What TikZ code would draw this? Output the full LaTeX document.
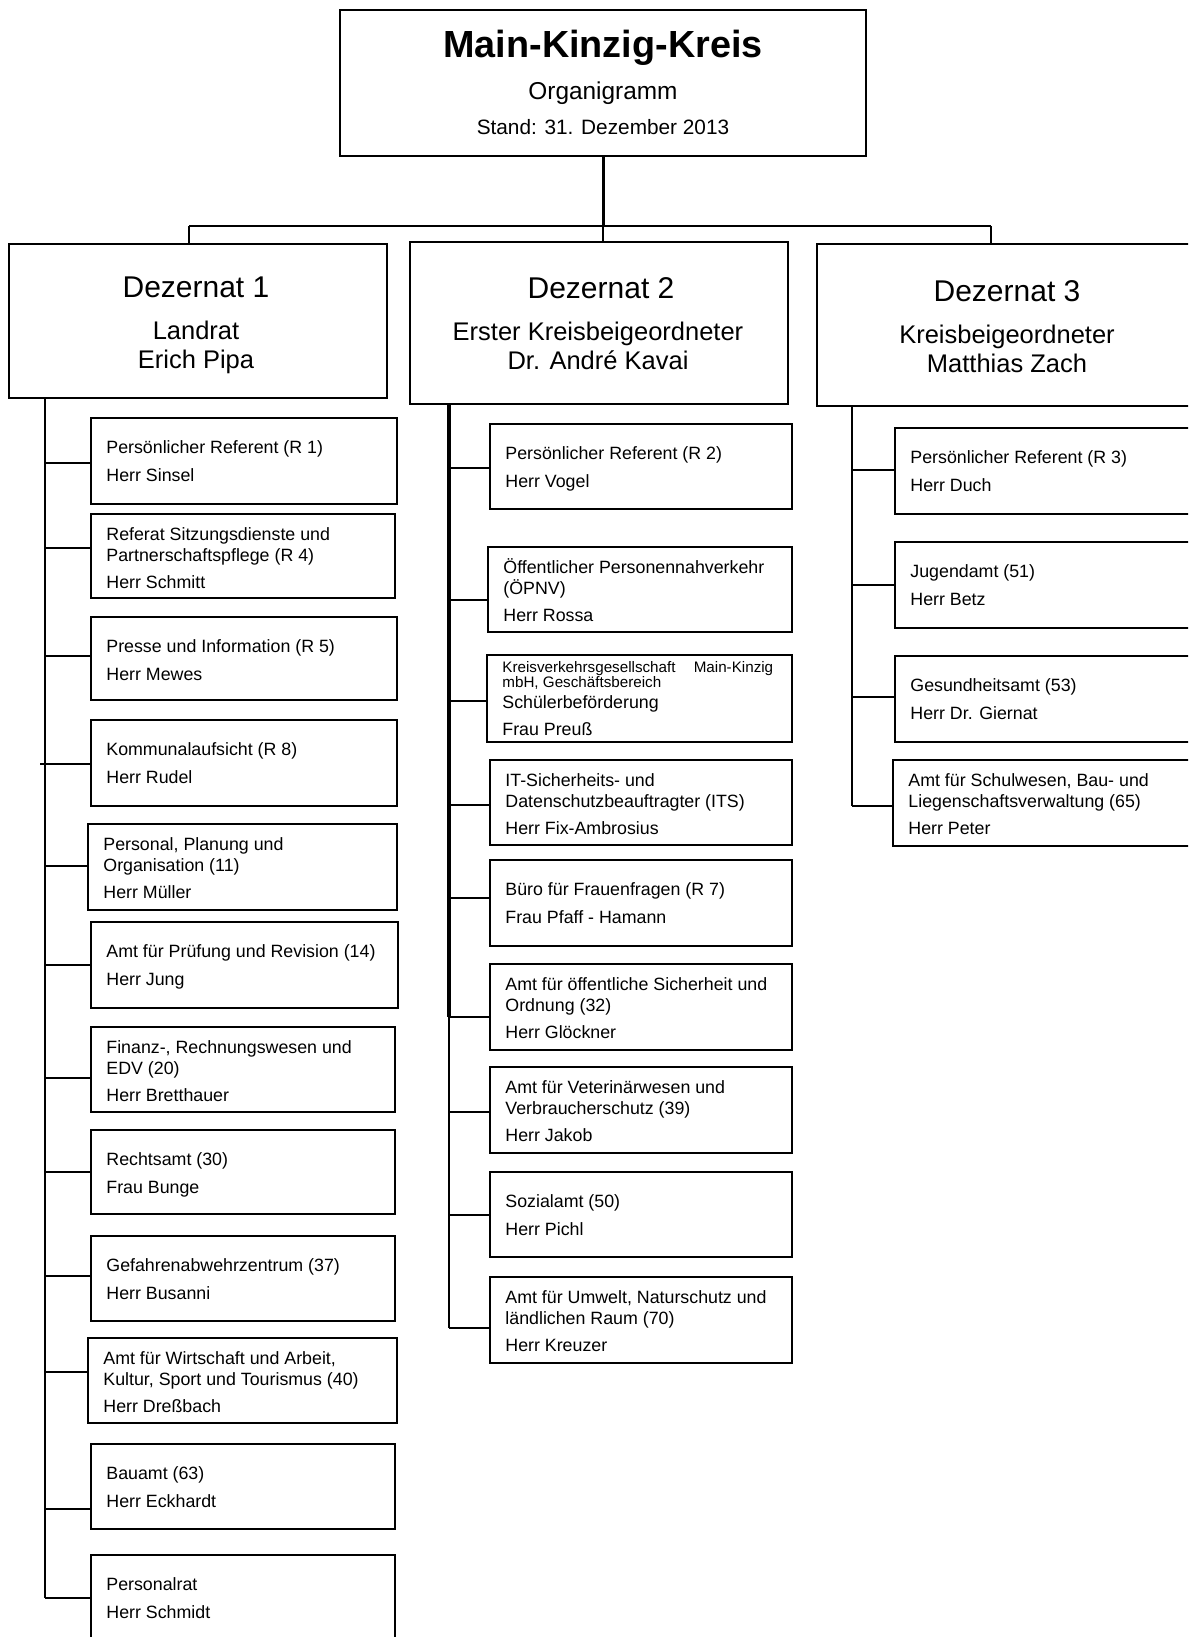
\documentclass[tikz,border=0pt]{standalone}
\usepackage{fontspec}
\setmainfont{Liberation Sans}
\tikzset{
  ln/.style={line width=1pt},
  ubox/.style={draw, line width=1pt, anchor=north west, inner sep=0pt, outer sep=0pt},
  ut/.style={anchor=base west, inner sep=0pt, font=\fontsize{8.9}{10}\selectfont},
  us/.style={anchor=base west, inner sep=0pt, font=\fontsize{7.6}{8}\selectfont},
  ct/.style={anchor=base, inner sep=0pt},
}
\newcommand\ubx[7]{%
  \node[ubox, minimum width={(#4-#2)*0.5pt}, minimum height={(#5-#3)*0.5pt}] (#1) at (#2,#3) {};
  \draw[ln] (#7 |- 0,#6) -- (#1.west |- 0,#6);
}
\newcommand\tA[3]{%
  \node[ut] (#1a) at ([shift={(15,35)}]#1.north west) {#2};
  \node[ut] (#1p) at ([shift={(15,63)}]#1.north west) {#3};
}
\newcommand\tB[4]{%
  \node[ut] (#1a) at ([shift={(15,26)}]#1.north west) {#2};
  \node[ut] (#1b) at ([shift={(15,47)}]#1.north west) {#3};
  \node[ut] (#1p) at ([shift={(15,74)}]#1.north west) {#4};
}
\begin{document}
\begin{tikzpicture}[x=0.5pt,y=-0.5pt]
\clip (0,0) rectangle (1188,1637);
\fill[white] (0,0) rectangle (1188,1637);

% top box
\node[ubox, minimum width=263pt, minimum height=73pt] (top) at (340,10) {};
\node[ct, font=\fontsize{18.9}{20}\selectfont\bfseries] (tt) at (603,58) {Main-Kinzig-Kreis};
\node[ct, font=\fontsize{12.2}{13}\selectfont] (to) at (603,100) {Organigramm};
\node[ct, font=\fontsize{10.4}{12}\selectfont] (ts) at (603,135) {Stand: 31. Dezember 2013};

% Dezernate
\node[ubox, minimum width=189pt, minimum height=77pt] (d1) at (9,244) {};
\node[ubox, minimum width=189pt, minimum height=81pt] (d2) at (410,242) {};
\node[ubox, minimum width=195pt, minimum height=81pt] (d3) at (817,244) {};

\node[ct, font=\fontsize{15}{17}\selectfont] (d1t) at (196,297) {Dezernat 1};
\node[ct, font=\fontsize{12.75}{14}\selectfont] (d1a) at (196,339) {Landrat};
\node[ct, font=\fontsize{12.75}{14}\selectfont] (d1b) at (196,368) {Erich Pipa};

\node[ct, font=\fontsize{15}{17}\selectfont] (d2t) at (601,298) {Dezernat 2};
\node[ct, font=\fontsize{12.75}{14}\selectfont] (d2a) at (598,340) {Erster Kreisbeigeordneter};
\node[ct, font=\fontsize{12.75}{14}\selectfont] (d2b) at (598,369) {Dr. André Kavai};

\node[ct, font=\fontsize{15}{17}\selectfont] (d3t) at (1007,301) {Dezernat 3};
\node[ct, font=\fontsize{12.75}{14}\selectfont] (d3a) at (1007,343) {Kreisbeigeordneter};
\node[ct, font=\fontsize{12.75}{14}\selectfont] (d3b) at (1007,372) {Matthias Zach};

% upper connectors
\coordinate (hl) at (189,226);
\coordinate (hr) at (991,226);
\coordinate (hm) at (603,226);
\draw[line width=1.5pt] (top.south) -- (hm);
\draw[ln] (hl) -- (hr);
\draw[ln] (hl) -- (hl |- d1.north);
\draw[ln] (hm) -- (hm |- d2.north);
\draw[ln] (hr) -- (hr |- d3.north);

% spines
\coordinate (sp1) at (45,398);
\coordinate (sp1e) at (45,1598);
\draw[ln] (sp1) -- (sp1e);
\coordinate (sp2) at (449,404);
\coordinate (sp2m) at (449,1017);
\coordinate (sp2e) at (449,1328);
\draw[line width=1.8pt] (sp2) -- (sp2m);
\draw[ln] (sp2m) -- (sp2e);
\coordinate (sp3) at (852,406);
\coordinate (sp3e) at (852,806);
\draw[ln] (sp3) -- (sp3e);

% column 1
\ubx{c1a}{91}{418}{397}{504}{463}{sp1}
\tA{c1a}{Persönlicher Referent (R 1)}{Herr Sinsel}
\ubx{c1b}{91}{514}{395}{598}{548}{sp1}
\tB{c1b}{Referat Sitzungsdienste und}{Partnerschaftspflege (R 4)}{Herr Schmitt}
\ubx{c1c}{91}{617}{397}{700}{656}{sp1}
\tA{c1c}{Presse und Information (R 5)}{Herr Mewes}
\ubx{c1d}{91}{720}{397}{806}{764}{sp1}
\tA{c1d}{Kommunalaufsicht (R 8)}{Herr Rudel}
\coordinate (k1) at (40,764);
\draw[ln] (k1) -- (sp1 |- k1);
\ubx{c1e}{88}{824}{397}{910}{866}{sp1}
\tB{c1e}{Personal, Planung und}{Organisation (11)}{Herr Müller}
\ubx{c1f}{91}{922}{398}{1008}{965}{sp1}
\tA{c1f}{Amt für Prüfung und Revision (14)}{Herr Jung}
\ubx{c1g}{91}{1027}{395}{1112}{1078}{sp1}
\tB{c1g}{Finanz-, Rechnungswesen und}{EDV (20)}{Herr Bretthauer}
\ubx{c1h}{91}{1130}{395}{1214}{1172}{sp1}
\tA{c1h}{Rechtsamt (30)}{Frau Bunge}
\ubx{c1i}{91}{1236}{395}{1321}{1276}{sp1}
\tA{c1i}{Gefahrenabwehrzentrum (37)}{Herr Busanni}
\ubx{c1j}{88}{1338}{397}{1423}{1372}{sp1}
\tB{c1j}{Amt für Wirtschaft und Arbeit,}{Kultur, Sport und Tourismus (40)}{Herr Dreßbach}
\ubx{c1k}{91}{1444}{395}{1529}{1509}{sp1}
\tA{c1k}{Bauamt (63)}{Herr Eckhardt}
\ubx{c1l}{91}{1555}{395}{1650}{1598}{sp1}
\tA{c1l}{Personalrat}{Herr Schmidt}

% column 2
\ubx{c2a}{490}{424}{792}{509}{468}{sp2}
\tA{c2a}{Persönlicher Referent (R 2)}{Herr Vogel}
\ubx{c2b}{488}{547}{792}{632}{600}{sp2}
\tB{c2b}{Öffentlicher Personennahverkehr}{(ÖPNV)}{Herr Rossa}
\ubx{c2c}{487}{655}{792}{742}{701}{sp2}
\node[us] (c2ca) at ([shift={(15,17)}]c2c.north west) {Kreisverkehrsgesellschaft\hspace{1.2em}Main-Kinzig};
\node[us] (c2cb) at ([shift={(15,32)}]c2c.north west) {mbH, Geschäftsbereich};
\node[ut] (c2cc) at ([shift={(15,53)}]c2c.north west) {Schülerbeförderung};
\node[ut] (c2cp) at ([shift={(15,80)}]c2c.north west) {Frau Preuß};
\ubx{c2d}{490}{760}{792}{845}{805}{sp2}
\tB{c2d}{IT-Sicherheits- und}{Datenschutzbeauftragter (ITS)}{Herr Fix-Ambrosius}
\ubx{c2e}{490}{860}{792}{946}{898}{sp2}
\tA{c2e}{Büro für Frauenfragen (R 7)}{Frau Pfaff - Hamann}
\ubx{c2f}{490}{964}{792}{1050}{1017}{sp2}
\tB{c2f}{Amt für öffentliche Sicherheit und}{Ordnung (32)}{Herr Glöckner}
\ubx{c2g}{490}{1067}{792}{1153}{1112}{sp2}
\tB{c2g}{Amt für Veterinärwesen und}{Verbraucherschutz (39)}{Herr Jakob}
\ubx{c2h}{490}{1172}{792}{1257}{1215}{sp2}
\tA{c2h}{Sozialamt (50)}{Herr Pichl}
\ubx{c2i}{490}{1277}{792}{1363}{1328}{sp2}
\tB{c2i}{Amt für Umwelt, Naturschutz und}{ländlichen Raum (70)}{Herr Kreuzer}

% column 3
\ubx{c3a}{895}{428}{1200}{514}{470}{sp3}
\tA{c3a}{Persönlicher Referent (R 3)}{Herr Duch}
\ubx{c3b}{895}{542}{1200}{628}{585}{sp3}
\tA{c3b}{Jugendamt (51)}{Herr Betz}
\ubx{c3c}{895}{656}{1200}{742}{697}{sp3}
\tA{c3c}{Gesundheitsamt (53)}{Herr Dr. Giernat}
\ubx{c3d}{893}{760}{1200}{846}{806}{sp3}
\tB{c3d}{Amt für Schulwesen, Bau- und}{Liegenschaftsverwaltung (65)}{Herr Peter}
\end{tikzpicture}
\end{document}
